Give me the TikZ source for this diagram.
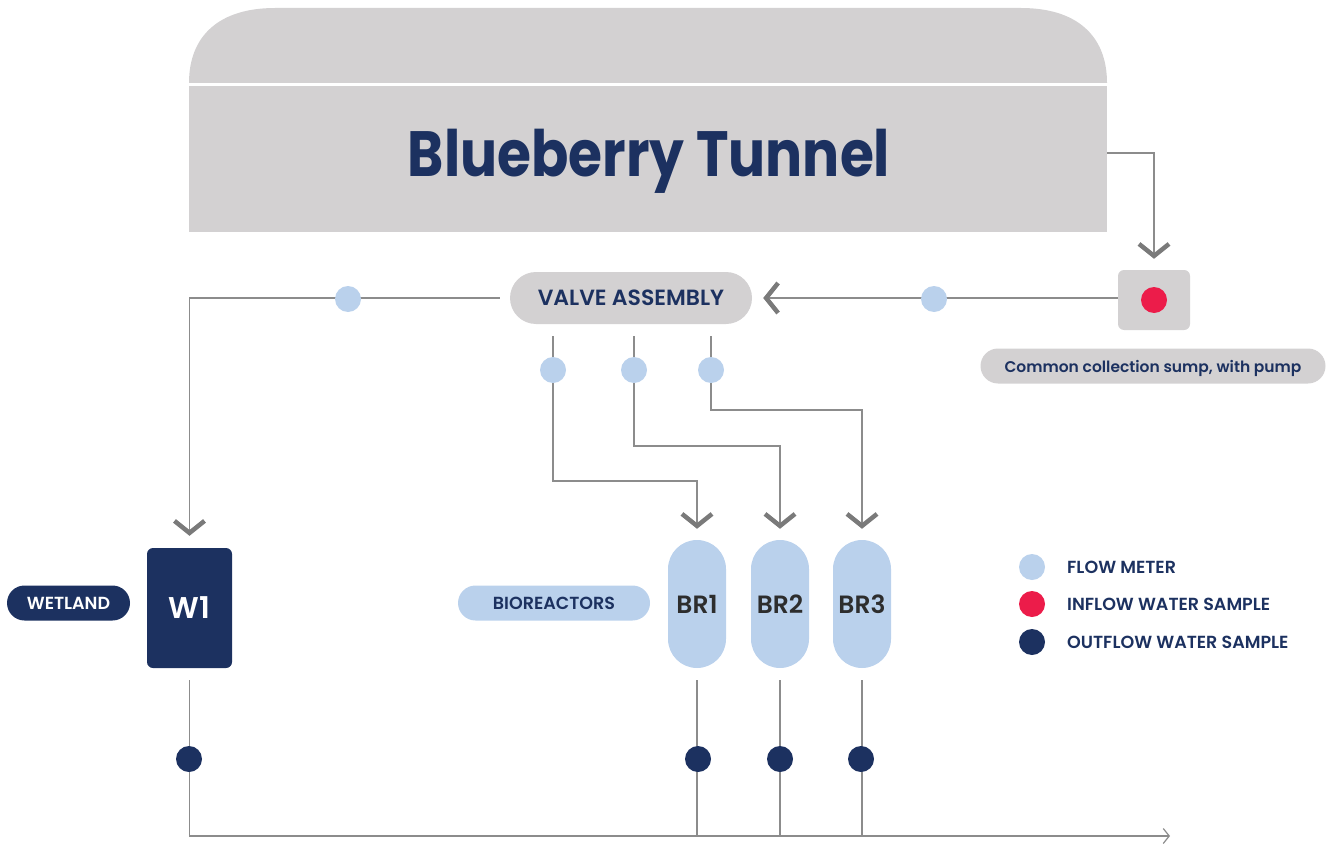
\documentclass[tikz,border=0pt]{standalone}
\usepackage{fontspec}
\setmainfont{Poppins}[BoldFont={Poppins SemiBold}]
\newfontfamily\titlefont{Poppins Bold}
\usetikzlibrary{arrows.meta,backgrounds}
\definecolor{tgray}{HTML}{D3D1D2}
\definecolor{navy}{HTML}{1C3160}
\definecolor{lblue}{HTML}{BAD1EC}
\definecolor{sred}{HTML}{EC1C4A}
\definecolor{lgray}{HTML}{8C8C8C}
\definecolor{cgray}{HTML}{7A7A7A}
\definecolor{dtext}{HTML}{2D2D2D}
\begin{document}
\begin{tikzpicture}[x=1pt,y=-1pt,
  lbl/.style={font=\bfseries\fontsize{17.5}{20}\selectfont, text depth=0pt, inner sep=0pt},
  pill/.style={lbl, rounded corners=17.5pt, minimum height=35pt},
  fm/.style={circle, fill=lblue, minimum size=26pt, inner sep=0pt},
  ow/.style={circle, fill=navy, minimum size=26pt, inner sep=0pt},
  iw/.style={circle, fill=sred, minimum size=26pt, inner sep=0pt},
  br/.style={fill=lblue, minimum width=58pt, minimum height=128pt, rounded corners=29pt,
    text=dtext, font=\bfseries\fontsize{25}{28}\selectfont, text depth=0pt, inner sep=0pt},
  pipe/.style={draw=lgray, line width=1.5pt},
  chev/.style={pipe, -{Straight Barb[length=12pt 0,width=30pt 0,line width=4.5pt 0,color=cgray]}},
  outarrow/.style={pipe, -{Straight Barb[length=6pt,width=15pt,line width=1.2pt,color=lgray]}}
]
\useasboundingbox (0,0) rectangle (1332,845);

% tunnel
\fill[tgray] (189,83) .. controls (189,35) and (220,8) .. (275,8) -- (1021,8)
  .. controls (1076,8) and (1107,35) .. (1107,83) -- cycle;
\node[fill=tgray, minimum width=918pt, minimum height=146pt, inner sep=0pt] (tunnel) at (648,159) {};
\node[font=\titlefont\fontsize{64}{70}\selectfont, text=navy, text depth=0pt, inner sep=0pt] (title) at (649,153)
  {\scalebox{0.86}[1]{Blueberry Tunnel}};

% sump
\node[fill=tgray, rounded corners=6pt, minimum width=72pt, minimum height=60pt] (sump) at (1154,300) {};
\node[iw] (sumpdot) at (1154,300) {};
\node[pill, fill=tgray, text=navy, minimum width=345pt, font=\bfseries\fontsize{15.5}{18}\selectfont] (sumplbl) at (1153,366) {Common collection sump, with pump};

% valve
\node[pill, fill=tgray, text=navy, minimum width=242pt, minimum height=52pt, rounded corners=26pt,
  font=\bfseries\fontsize{22}{25}\selectfont] (valve) at (631,298) {VALVE ASSEMBLY};

% flow meters
\node[fm] (fmin) at (934,299) {};
\node[fm] (fmw) at (348,299) {};
\node[fm] (fma) at (553,370) {};
\node[fm] (fmb) at (634,370) {};
\node[fm] (fmc) at (711,370) {};

% wetland
\node[fill=navy, rounded corners=6pt, minimum width=85pt, minimum height=120pt, text=white,
  font=\bfseries\fontsize{30}{34}\selectfont, text depth=0pt, inner sep=0pt] (w1) at (189.5,608) {W1};
\node[pill, fill=navy, text=white, minimum width=123pt] (wet) at (68.5,603) {WETLAND};

% bioreactors
\node[br] (br1) at (697,604) {BR1};
\node[br] (br2) at (780,604) {BR2};
\node[br] (br3) at (862,604) {BR3};
\node[pill, fill=lblue, text=navy, minimum width=192pt] (bio) at (554,603) {BIOREACTORS};

% outflow samples
\node[ow] (ow1) at (189,759) {};
\node[ow] (ow2) at (698,759) {};
\node[ow] (ow3) at (780,759) {};
\node[ow] (ow4) at (861,759) {};
\coordinate (outend) at (1170,836);

% legend
\node[fm] (lg1) at (1032,567) {};
\node[iw] (lg2) at (1032,604) {};
\node[ow] (lg3) at (1032,642) {};
\node[lbl, text=navy, anchor=west] (lt1) at (1067,567) {FLOW METER};
\node[lbl, text=navy, anchor=west] (lt2) at (1067,604) {INFLOW WATER SAMPLE};
\node[lbl, text=navy, anchor=west] (lt3) at (1067,642) {OUTFLOW WATER SAMPLE};

\begin{scope}[on background layer]
  \draw[chev, shorten >=11pt] ([yshift=6pt]tunnel.east) -| (sump.north);
  \draw[chev, shorten >=11pt] (sump.west |- valve.east) -- (valve.east);
  \draw[chev, shorten <=10pt, shorten >=12pt] (valve.west) -| (w1.north);
  \draw[chev, shorten <=12pt, shorten >=11pt] (fma |- valve.south) -- (553,481) -| (br1.north);
  \draw[chev, shorten <=12pt, shorten >=11pt] (fmb |- valve.south) -- (634,446) -| (br2.north);
  \draw[chev, shorten <=12pt, shorten >=11pt] (fmc |- valve.south) -- (711,410) -| (br3.north);
  \draw[outarrow, shorten <=12pt] (w1.south) |- (outend);
  \draw[pipe, shorten <=12pt] (br1.south) -- (br1.south |- outend);
  \draw[pipe, shorten <=12pt] (br2.south) -- (br2.south |- outend);
  \draw[pipe, shorten <=12pt] (br3.south) -- (br3.south |- outend);
\end{scope}
\end{tikzpicture}
\end{document}
